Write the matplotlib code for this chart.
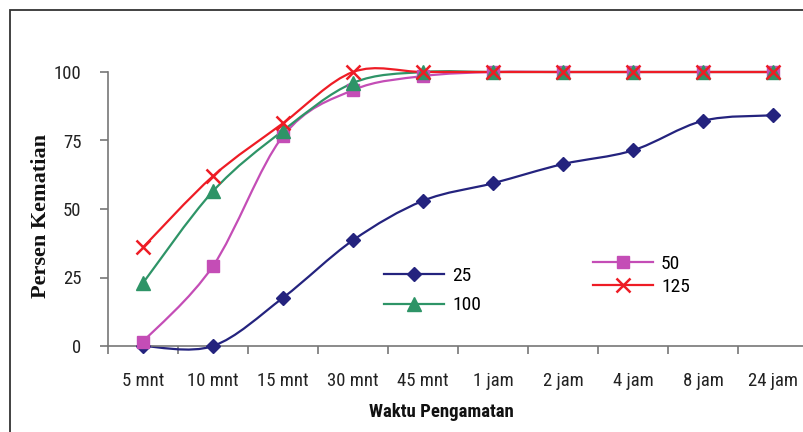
import matplotlib
matplotlib.use("Agg")
import matplotlib.pyplot as plt
from matplotlib.path import Path
from matplotlib.patches import PathPatch, Rectangle
from matplotlib.lines import Line2D
from matplotlib import font_manager as fm
import numpy as np

categories = ["5 mnt", "10 mnt", "15 mnt", "30 mnt", "45 mnt",
              "1 jam", "2 jam", "4 jam", "8 jam", "24 jam"]
s25 = [0, 0, 17.6, 38.6, 53, 59.4, 66.4, 71.4, 82.2, 84.2]
s50 = [1.6, 29.2, 76.6, 93.4, 98.5, 100, 100, 100, 100, 100]
s100 = [23, 56.5, 78.6, 96, 100, 100, 100, 100, 100, 100]
s125 = [36, 62, 81.3, 100, 100, 100, 100, 100, 100, 100]
series_labels = ["25", "50", "100", "125"]
yticks = [0, 25, 50, 75, 100]

def pick(names):
    for n in names:
        try:
            fm.findfont(fm.FontProperties(family=n), fallback_to_default=False)
            return n
        except Exception:
            pass
    return "DejaVu Sans"

narrow = pick(["Liberation Sans Narrow", "Arial Narrow", "Roboto Condensed", "Liberation Sans"])
serif = pick(["Liberation Serif", "Times New Roman", "DejaVu Serif"])

W, H = 804, 432
fig = plt.figure(figsize=(W / 100, H / 100), dpi=100)
ax = fig.add_axes([108 / W, 1 - 346 / H, 700 / W, (346 - 72) / H])

colors = {"25": "#24237E", "50": "#C44DB6", "100": "#2E9467", "125": "#EE1C25"}
markers = {"25": dict(marker="D", ms=7.5),
           "50": dict(marker="s", ms=8.5),
           "100": dict(marker="^", ms=9.5),
           "125": dict(marker="x", ms=10, mew=1.8)}

x = np.arange(len(categories))

def smooth_path(xs, ys):
    pts = np.column_stack([xs, ys]).astype(float)
    n = len(pts)
    verts = [pts[0]]
    codes = [Path.MOVETO]
    for i in range(n - 1):
        p0 = pts[i - 1] if i > 0 else pts[i]
        p1 = pts[i]
        p2 = pts[i + 1]
        p3 = pts[i + 2] if i + 2 < n else pts[i + 1]
        c1 = p1 + (p2 - p0) / 6.0
        c2 = p2 - (p3 - p1) / 6.0
        verts += [c1, c2, p2]
        codes += [Path.CURVE4] * 3
    return Path(verts, codes)

data = {"25": s25, "50": s50, "100": s100, "125": s125}
handles = {}
for lab in series_labels:
    c = colors[lab]
    patch = PathPatch(smooth_path(x, data[lab]), fill=False, edgecolor=c,
                      lw=1.6, transform=ax.transData, clip_on=False, zorder=2)
    ax.add_patch(patch)
    mk = markers[lab]
    ax.plot(x, data[lab], linestyle="none", marker=mk["marker"], ms=mk["ms"],
            mew=mk.get("mew", 1.0), color=c, mec=c, clip_on=False, zorder=3)
    handles[lab] = Line2D([], [], color=c, lw=1.6, marker=mk["marker"],
                          ms=mk["ms"], mew=mk.get("mew", 1.0), mec=c)

ax.set_xlim(-0.5, len(categories) - 0.5)
ax.set_ylim(0, 100)
ax.set_yticks(yticks)
ax.set_yticklabels([str(v) for v in yticks], fontsize=13.5, family=narrow, color="#222222")
ax.set_xticks(x)
ax.set_xticklabels(categories, fontsize=13.5, family=narrow, color="#222222")
ax.set_xticks(np.arange(-0.5, len(categories), 1.0), minor=True)
ax.tick_params(axis="x", which="major", length=0, pad=19)
ax.tick_params(axis="x", which="minor", length=6, width=1.2, color="#777777", direction="out")
ax.tick_params(axis="y", which="major", length=6, width=1.2, color="#777777", direction="out", pad=13)

for s in ["top", "right"]:
    ax.spines[s].set_visible(False)
for s in ["left", "bottom"]:
    ax.spines[s].set_color("#777777")
    ax.spines[s].set_linewidth(1.2)
ax.patch.set_alpha(0)

fig.text(41 / W, 1 - 216 / H, "Persen Kematian", rotation=90, ha="center", va="center",
         fontsize=16, fontweight="bold", family=serif, color="#111111")
fig.text(441 / W, 1 - 412 / H, "Waktu Pengamatan", ha="center", va="center",
         fontsize=13.5, fontweight="bold", family=narrow, color="#111111")

leg1 = ax.legend([handles["25"], handles["100"]], ["25", "100"], loc="center left",
                 bbox_to_anchor=(384 / W, 1 - 290.5 / H), bbox_transform=fig.transFigure,
                 frameon=False, borderpad=0, borderaxespad=0, handlelength=3.1,
                 handletextpad=0.4, labelspacing=0.6,
                 prop=dict(family=narrow, size=14))
ax.add_artist(leg1)
leg2 = ax.legend([handles["50"], handles["125"]], ["50", "125"], loc="center left",
                 bbox_to_anchor=(593 / W, 1 - 275.5 / H), bbox_transform=fig.transFigure,
                 frameon=False, borderpad=0, borderaxespad=0, handlelength=3.1,
                 handletextpad=0.4, labelspacing=0.25,
                 prop=dict(family=narrow, size=14))

fig.add_artist(Rectangle((10 / W, -0.1), 1.2, 1.1 - 10 / H, transform=fig.transFigure,
                         fill=False, edgecolor="#333333", lw=1.3, clip_on=False))

fig.savefig("out.png", dpi=100)
